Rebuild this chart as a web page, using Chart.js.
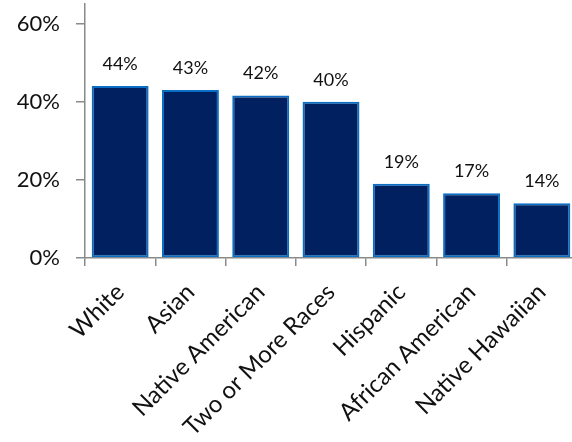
<!DOCTYPE html>
<html>
<head>
<meta charset="utf-8">
<script src="https://cdn.jsdelivr.net/npm/chart.js@4/dist/chart.umd.min.js"></script>
<style>
  html, body { margin: 0; padding: 0; background: #fff; overflow: hidden; }
  #wrap { width: 577px; height: 442px; }
</style>
</head>
<body>
<div id="wrap"><canvas id="chart"></canvas></div>
<script>
// --- Daten ---
const categories = ["White", "Asian", "Native American", "Two or More Races", "Hispanic", "African American", "Native Hawaiian"];
const values = [44, 43, 41.6, 40, 19, 16.6, 14];
const valueLabels = ["44%", "43%", "42%", "40%", "19%", "17%", "14%"];
const yTicks = [0, 20, 40, 60];

const FONT = "Lato, 'Open Sans', sans-serif";
const AXIS_GRAY = "#8a8a8a";

// Werte über den Balken
const barLabels = {
    id: "barLabels",
    afterDatasetsDraw(chart){
        const ctx = chart.ctx;
        const meta = chart.getDatasetMeta(0);
        ctx.save();
        ctx.font = "18px " + FONT;
        ctx.fillStyle = "#111";
        ctx.textAlign = "center";
        ctx.textBaseline = "middle";
        meta.data.forEach((bar, i) => {
            ctx.fillText(valueLabels[i], bar.x, bar.y - 22);
        });
        ctx.restore();
    }
};

new Chart(document.getElementById("chart"), {
    type: "bar",
    data: {
        labels: categories,
        datasets: [{
            data: values,
            backgroundColor: "#002060",
            borderColor: "#0a6fc4",
            borderWidth: 2,
            borderSkipped: false,
            barPercentage: 0.81,
            categoryPercentage: 1
        }]
    },
    options: {
        responsive: true,
        maintainAspectRatio: false,
        animation: false,
        layout: { padding: { top: 4, left: 0, right: 0, bottom: 0 } },
        plugins: { legend: { display: false }, tooltip: { enabled: false } },
        scales: {
            x: {
                grid: { drawOnChartArea: false, drawTicks: true, tickLength: 8, color: AXIS_GRAY, lineWidth: 1.5, offset: true },
                border: { color: AXIS_GRAY, width: 1.5 },
                ticks: { color: "#111", font: { family: FONT, size: 24 }, minRotation: 45, maxRotation: 45, padding: 12 },
                afterFit(scale){ scale.height = 184; scale.paddingLeft = 0; scale.paddingRight = 0; }
            },
            y: {
                min: 0,
                max: 65,
                grid: { drawOnChartArea: false, drawTicks: true, tickLength: 9, color: AXIS_GRAY, lineWidth: 1.5 },
                border: { color: AXIS_GRAY, width: 1.5 },
                ticks: { color: "#111", font: { family: FONT, size: 22 }, padding: 16, stepSize: 20,
                         callback: v => v + "%" },
                afterBuildTicks(scale){ scale.ticks = yTicks.map(v => ({ value: v })); },
                afterFit(scale){ scale.width = 85; scale.paddingTop = 0; scale.paddingBottom = 0; }
            }
        }
    },
    plugins: [barLabels]
});
</script>
</body>
</html>
